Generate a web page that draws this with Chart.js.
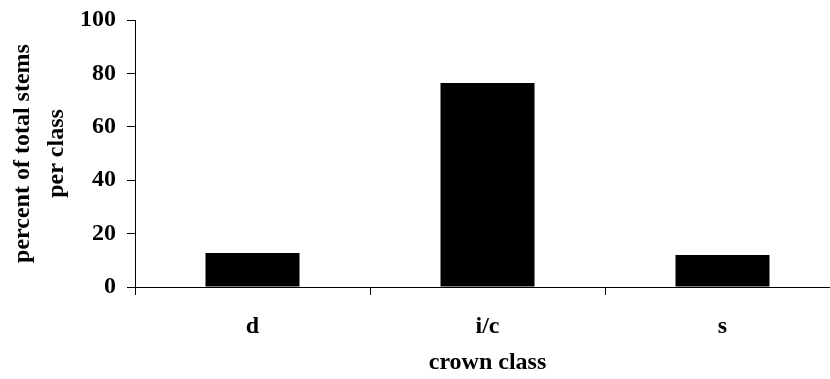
<!DOCTYPE html>
<html>
<head>
<meta charset="utf-8">
<script src="https://cdn.jsdelivr.net/npm/chart.js@4"></script>
<style>
  html, body { margin: 0; padding: 0; background: #fff; overflow: hidden; }
  #wrap { width: 845px; height: 379px; position: relative; }
</style>
</head>
<body>
<div id="wrap"><canvas id="crown-chart"></canvas></div>
<script>
// crown class categories and share of stems (%)
var categories = ["d", "i/c", "s"];
var percentStems = [12.7, 76.4, 12.0];
var yTicks = [0, 20, 40, 60, 80, 100];

var serif = "'Liberation Serif', 'Times New Roman', serif";

var ctx = document.getElementById("crown-chart");

var chartData = {
    labels: categories,
    datasets: [{
        label: "percent of total stems per class",
        data: percentStems,
        backgroundColor: "#000",
        borderWidth: 0,
        barPercentage: 0.4,
        categoryPercentage: 1
    }]
};

var chartOptions = {
    responsive: true,
    maintainAspectRatio: false,
    animation: false,
    layout: { padding: { top: 20, right: 5, left: 0, bottom: 0 } },
    plugins: {
        legend: { display: false },
        tooltip: { enabled: false }
    },
    scales: {
        x: {
            grid: {
                offset: true,
                drawOnChartArea: false,
                color: "#000",
                tickLength: 8,
                tickColor: "#000"
            },
            border: { color: "#000", width: 1 },
            ticks: {
                color: "#000",
                padding: 17,
                font: { family: serif, size: 24, weight: "bold" }
            },
            title: {
                display: true,
                text: "crown class",
                color: "#000",
                padding: { top: 0, bottom: 2 },
                font: { family: serif, size: 24, weight: "bold" }
            },
            afterFit: function(scale) { scale.height = 92; }
        },
        y: {
            min: 0,
            max: 100,
            afterBuildTicks: function(scale) {
                scale.ticks = yTicks.map(function(v) { return { value: v }; });
            },
            grid: {
                drawOnChartArea: false,
                color: "#000",
                tickLength: 8,
                tickColor: "#000"
            },
            border: { color: "#000", width: 1 },
            ticks: {
                color: "#000",
                padding: 11,
                font: { family: serif, size: 24, weight: "bold", lineHeight: 0.7 }
            },
            title: {
                display: true,
                text: ["percent of total stems", "per class"],
                color: "#000",
                padding: { top: 5, bottom: 0 },
                font: { family: serif, size: 24, weight: "bold", lineHeight: 1.45 }
            },
            afterFit: function(scale) { scale.width = 135; }
        }
    }
};

new Chart(ctx, {
    type: "bar",
    data: chartData,
    options: chartOptions
});
</script>
</body>
</html>
